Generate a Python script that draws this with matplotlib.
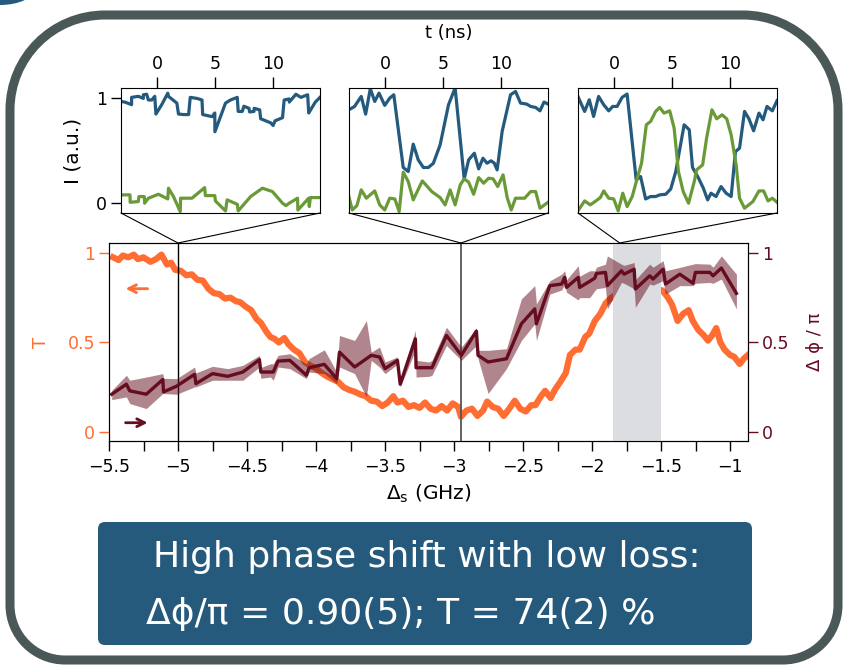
import matplotlib.pyplot as plt
from matplotlib.patches import ConnectionPatch, Ellipse, FancyBboxPatch, PathPatch
from matplotlib.path import Path

# ---- main panel: transmission T (left axis) ----
t_detuning = [
    -5.47, -5.43, -5.40, -5.36, -5.32, -5.29, -5.25, -5.20, -5.16, -5.12,
    -5.08, -5.05, -5.02, -4.98, -4.94, -4.90, -4.86, -4.82, -4.78, -4.74,
    -4.70, -4.66, -4.62, -4.58, -4.55, -4.51, -4.47, -4.43, -4.40, -4.36,
    -4.33, -4.30, -4.27, -4.23, -4.20, -4.16, -4.12, -4.08, -4.04, -4.00,
    -3.96, -3.92, -3.88, -3.84, -3.80, -3.76, -3.72, -3.68, -3.64, -3.60,
    -3.56, -3.52, -3.48, -3.44, -3.41, -3.37, -3.33, -3.29, -3.25, -3.21,
    -3.17, -3.13, -3.09, -3.05, -3.01, -2.97, -2.95, -2.91, -2.87, -2.83,
    -2.79, -2.76, -2.72, -2.68, -2.64, -2.60, -2.56, -2.52, -2.48, -2.44,
    -2.41, -2.37, -2.34, -2.30, -2.27, -2.23, -2.19, -2.16, -2.12, -2.09,
    -2.05, -2.02, -1.98, -1.94, -1.90, -1.86, -1.82, -1.70, -1.55, -1.49,
    -1.45, -1.42, -1.38, -1.34, -1.30, -1.27, -1.23, -1.19, -1.16, -1.13,
    -1.10, -1.07, -1.04, -1.00, -0.97, -0.93, -0.90, -0.87,
]
transmission = [
    0.975, 0.96, 0.985, 0.975, 0.99, 0.965, 0.975, 0.95, 0.965, 0.99,
    0.935, 0.945, 0.905, 0.90, 0.875, 0.88, 0.85, 0.845, 0.80, 0.775,
    0.77, 0.745, 0.75, 0.73, 0.725, 0.70, 0.68, 0.63, 0.61, 0.56,
    0.53, 0.52, 0.50, 0.525, 0.49, 0.46, 0.44, 0.39, 0.37, 0.355,
    0.33, 0.31, 0.295, 0.28, 0.25, 0.235, 0.225, 0.21, 0.20, 0.175,
    0.17, 0.145, 0.165, 0.20, 0.165, 0.175, 0.14, 0.15, 0.135, 0.165,
    0.13, 0.12, 0.145, 0.12, 0.16, 0.14, 0.085, 0.12, 0.13, 0.09,
    0.12, 0.17, 0.14, 0.13, 0.09, 0.13, 0.175, 0.13, 0.115, 0.15,
    0.15, 0.20, 0.23, 0.19, 0.235, 0.28, 0.33, 0.43, 0.46, 0.46,
    0.53, 0.55, 0.62, 0.66, 0.72, 0.75, 0.77, 0.80, 0.80, 0.79,
    0.75, 0.71, 0.62, 0.66, 0.68, 0.62, 0.57, 0.54, 0.51, 0.54,
    0.58, 0.50, 0.46, 0.43, 0.42, 0.38, 0.41, 0.43,
]

# ---- main panel: phase shift (right axis) with uncertainty band ----
phase_detuning = [
    -5.48, -5.374, -5.35, -5.23, -5.11, -5.105, -5.01, -4.88, -4.87, -4.75,
    -4.64, -4.53, -4.41, -4.40, -4.33, -4.31, -4.275, -4.19, -4.07, -4.05,
    -3.94, -3.85, -3.83, -3.72, -3.635, -3.60, -3.54, -3.50, -3.41, -3.39,
    -3.28, -3.275, -3.18, -3.16, -3.055, -2.947, -2.838, -2.826, -2.753, -2.62,
    -2.512, -2.415, -2.403, -2.306, -2.22, -2.198, -2.185, -2.10, -2.09, -2.017,
    -1.98, -1.968, -1.903, -1.889, -1.787, -1.768, -1.695, -1.686, -1.582, -1.558,
    -1.485, -1.468, -1.364, -1.268, -1.251, -1.147, -1.123, -1.063, -0.954,
]
phase = [
    0.211, 0.267, 0.230, 0.211, 0.293, 0.224, 0.256, 0.322, 0.270, 0.326,
    0.311, 0.335, 0.404, 0.335, 0.335, 0.335, 0.396, 0.400, 0.317, 0.359,
    0.378, 0.298, 0.446, 0.363, 0.409, 0.428, 0.419, 0.354, 0.400, 0.267,
    0.520, 0.359, 0.359, 0.359, 0.539, 0.428, 0.563, 0.428, 0.391, 0.409,
    0.604, 0.687, 0.604, 0.817, 0.826, 0.863, 0.807, 0.863, 0.807, 0.841,
    0.859, 0.885, 0.891, 0.817, 0.900, 0.881, 0.909, 0.798, 0.872, 0.854,
    0.909, 0.826, 0.881, 0.830, 0.891, 0.891, 0.872, 0.915, 0.774,
]
phase_low = [
    0.181, 0.196, 0.159, 0.131, 0.215, 0.215, 0.211, 0.252, 0.252, 0.289,
    0.289, 0.289, 0.363, 0.300, 0.307, 0.289, 0.363, 0.354, 0.298, 0.335,
    0.326, 0.270, 0.363, 0.326, 0.196, 0.400, 0.363, 0.326, 0.378, 0.252,
    0.456, 0.307, 0.311, 0.317, 0.483, 0.400, 0.483, 0.409, 0.215, 0.354,
    0.511, 0.604, 0.511, 0.770, 0.793, 0.826, 0.780, 0.737, 0.750, 0.750,
    0.789, 0.800, 0.807, 0.687, 0.835, 0.830, 0.800, 0.696, 0.826, 0.820,
    0.845, 0.770, 0.817, 0.817, 0.830, 0.835, 0.830, 0.854, 0.687,
]
phase_high = [
    0.233, 0.317, 0.289, 0.307, 0.326, 0.300, 0.298, 0.363, 0.330, 0.367,
    0.354, 0.372, 0.428, 0.360, 0.381, 0.381, 0.428, 0.437, 0.381, 0.410,
    0.459, 0.335, 0.539, 0.511, 0.622, 0.446, 0.474, 0.391, 0.419, 0.289,
    0.567, 0.400, 0.391, 0.400, 0.585, 0.474, 0.581, 0.456, 0.456, 0.465,
    0.743, 0.817, 0.715, 0.844, 0.881, 0.900, 0.850, 0.928, 0.870, 0.900,
    0.900, 0.920, 0.937, 0.983, 0.937, 0.930, 0.946, 0.850, 0.937, 0.920,
    0.956, 0.900, 0.919, 0.937, 0.940, 0.937, 0.920, 0.983, 0.881,
]

detuning_ticks = [-5.5, -5.0, -4.5, -4.0, -3.5, -3.0, -2.5, -2.0, -1.5, -1.0]
detuning_labels = ["−5.5", "−5", "−4.5", "−4", "−3.5", "−3", "−2.5", "−2", "−1.5", "−1"]
level_ticks = [0, 0.5, 1]
level_labels = ["0", "0.5", "1"]

inset_marks = [-5.0, -2.95, -1.8]      # detunings the time traces belong to
shaded_band = (-1.85, -1.5)

# ---- time traces I(t) for the three insets ----
trace1_t_blue = [
    -3.1, -2.77, -2.19, -2.19, -1.61, -1.18, -1.18, -0.89, -0.75, -0.46,
    -0.2, -0.1, 0.40, 0.92, 0.98, 1.70, 1.84, 2.28, 2.71, 2.85,
    3.43, 3.86, 3.92, 4.73, 4.96, 4.97, 5.88, 6.31, 6.89, 6.97,
    7.32, 7.46, 7.90, 7.95, 8.33, 8.34, 8.82, 8.90, 9.77, 9.97,
    10.14, 10.78, 10.92, 11.35, 11.36, 11.93, 12.36, 12.94, 13.03, 13.60, 14.0,
]
trace1_blue = [
    0.97, 0.965, 0.94, 1.01, 1.02, 1.0, 1.035, 1.04, 0.985, 0.985,
    1.02, 0.85, 0.94, 1.05, 1.02, 0.955, 0.85, 0.845, 0.845, 1.01,
    1.0, 0.985, 0.845, 0.825, 0.86, 0.68, 0.955, 0.985, 1.01, 0.875,
    0.875, 0.925, 0.905, 0.87, 0.875, 0.905, 0.89, 0.805, 0.765, 0.74,
    0.785, 0.815, 0.985, 0.995, 0.965, 1.04, 1.01, 1.035, 0.86, 0.965, 1.01,
]
trace1_t_green = [
    -3.11, -2.33, -2.31, -1.61, -1.56, -1.10, -1.07, -0.75, 0.12, 0.92,
    0.98, 1.41, 1.99, 2.02, 3.00, 4.09, 4.15, 4.96, 5.01, 5.88,
    6.02, 6.89, 6.97, 8.04, 9.05, 9.91, 10.78, 11.07, 11.35, 12.07,
    12.10, 13.03, 13.08, 13.17, 14.0,
]
trace1_green = [
    0.074, 0.074, 0.003, 0.010, 0.058, 0.058, -0.006, 0.042, 0.080, 0.035,
    0.138, 0.058, -0.087, 0.042, 0.042, 0.144, 0.067, 0.067, 0.016, -0.080,
    0.026, -0.016, -0.080, 0.058, 0.138, 0.106, -0.006, -0.029, -0.006, 0.042,
    -0.071, 0.042, -0.038, 0.048, 0.048,
]

trace2_t_blue = [
    -3.11, -2.62, -2.05, -1.67, -1.27, -0.89, -0.52, -0.03, 0.40, 0.75,
    1.56, 1.99, 2.42, 2.85, 3.29, 3.72, 4.15, 4.73, 5.45, 6.02,
    6.80, 7.18, 7.67, 8.04, 8.41, 8.76, 9.11, 9.39, 9.63, 10.06,
    10.78, 11.21, 11.64, 12.16, 12.51, 12.94, 13.31, 13.66, 14.0,
]
trace2_blue = [
    0.891, 0.923, 1.019, 0.849, 1.093, 0.971, 1.051, 0.933, 1.003, 1.035,
    0.337, 0.298, 0.561, 0.410, 0.337, 0.337, 0.378, 0.554, 0.939, 1.10,
    0.228, 0.410, 0.474, 0.324, 0.426, 0.378, 0.401, 0.378, 0.314, 0.683,
    1.035, 1.067, 0.955, 0.946, 0.923, 0.913, 0.881, 0.965, 0.946,
]
trace2_t_green = [
    -3.11, -2.82, -2.42, -2.05, -1.61, -0.89, -0.46, -0.03, 0.40, 0.84,
    1.21, 1.56, 1.99, 2.42, 3.20, 4.01, 4.73, 5.16, 5.59, 6.02,
    6.46, 6.80, 7.18, 7.61, 8.04, 8.47, 8.90, 9.28, 9.68, 10.14,
    10.49, 10.84, 11.21, 11.99, 12.51, 12.94, 13.31, 14.0,
]
trace2_green = [
    0.058, -0.071, -0.029, 0.122, 0.042, 0.112, -0.022, -0.071, 0.042, 0.035,
    -0.087, 0.292, 0.202, 0.026, 0.208, 0.106, 0.048, -0.022, 0.122, -0.022,
    0.170, 0.228, 0.196, 0.080, 0.240, 0.186, 0.234, 0.228, 0.154, 0.266,
    0.048, -0.071, 0.042, 0.042, 0.106, 0.106, -0.054, 0.003,
]

trace3_t_blue = [
    -3.11, -2.53, -2.13, -1.76, -1.33, -0.89, -0.46, -0.12, 0.26, 0.69,
    1.12, 1.90, 2.28, 2.71, 3.14, 3.57, 3.92, 4.44, 4.87, 5.30,
    6.02, 6.46, 6.74, 7.26, 7.67, 8.04, 8.33, 8.76, 9.19, 9.63,
    10.06, 10.43, 10.78, 11.21, 11.59, 11.99, 12.45, 12.80, 13.14, 13.60, 14.0,
]
trace3_blue = [
    1.019, 0.875, 0.987, 0.827, 1.019, 0.939, 0.881, 0.923, 0.923, 1.010,
    1.042, 0.218, 0.250, 0.035, 0.058, 0.058, 0.074, 0.080, 0.131, 0.298,
    0.747, 0.699, 0.337, 0.234, 0.138, 0.026, 0.090, 0.058, 0.154, 0.090,
    0.058, 0.490, 0.522, 0.875, 0.804, 0.689, 0.859, 0.795, 0.923, 0.881, 0.978,
]
trace3_t_green = [
    -3.11, -2.53, -2.05, -1.56, -1.18, -0.89, -0.46, -0.03, 0.35, 0.75,
    1.12, 1.56, 1.99, 2.36, 2.77, 3.14, 3.57, 3.92, 4.29, 4.78,
    5.16, 5.53, 5.94, 6.40, 6.89, 7.09, 7.61, 7.95, 8.41, 8.82,
    9.28, 9.68, 10.06, 10.49, 10.78, 11.21, 11.93, 12.45, 12.85, 13.23, 13.60, 14.0,
]
trace3_green = [
    -0.080, 0.016, -0.022, 0.016, 0.048, 0.112, 0.042, 0.035, -0.080, 0.090,
    -0.038, 0.058, 0.234, 0.378, 0.747, 0.779, 0.875, 0.913, 0.859, 0.881,
    0.715, 0.298, 0.106, -0.006, 0.202, 0.314, 0.362, 0.619, 0.891, 0.804,
    0.843, 0.804, 0.651, 0.362, 0.042, -0.054, 0.010, 0.112, 0.112, 0.016, 0.042, 0.003,
]

time_ticks = [0, 5, 10]

ORANGE = "#ff6d33"
WINE = "#650c1f"
BLUE = "#245a7e"
GREEN = "#6a9a38"
FRAME = "#4a5858"
BOX = "#255a7c"
SHADE = "#dcdde0"

TICK_SIZE = 12.5
LABEL_SIZE = 13

fig = plt.figure(figsize=(8.55, 6.65), dpi=100)

# background layer in pixel units for the slide frame and caption box
bg = fig.add_axes([0, 0, 1, 1], zorder=-1)
bg.set_xlim(0, 855)
bg.set_ylim(665, 0)
bg.axis("off")


def frame_path(x0, y0, x1, y1, r_top, r_bot):
    """Rounded rectangle with different corner radii on top and bottom."""
    k = 0.5523
    verts = [
        (x0 + r_top, y0), (x1 - r_top, y0),
        (x1 - r_top + k * r_top, y0), (x1, y0 + r_top - k * r_top), (x1, y0 + r_top),
        (x1, y1 - r_bot),
        (x1, y1 - r_bot + k * r_bot), (x1 - r_bot + k * r_bot, y1), (x1 - r_bot, y1),
        (x0 + r_bot, y1),
        (x0 + r_bot - k * r_bot, y1), (x0, y1 - r_bot + k * r_bot), (x0, y1 - r_bot),
        (x0, y0 + r_top),
        (x0, y0 + r_top - k * r_top), (x0 + r_top - k * r_top, y0), (x0 + r_top, y0),
        (x0 + r_top, y0),
    ]
    codes = [Path.MOVETO, Path.LINETO,
             Path.CURVE4, Path.CURVE4, Path.CURVE4,
             Path.LINETO,
             Path.CURVE4, Path.CURVE4, Path.CURVE4,
             Path.LINETO,
             Path.CURVE4, Path.CURVE4, Path.CURVE4,
             Path.LINETO,
             Path.CURVE4, Path.CURVE4, Path.CURVE4,
             Path.CLOSEPOLY]
    return Path(verts, codes)


bg.add_patch(PathPatch(frame_path(10, 15, 838, 660, 95, 55), fc="none", ec=FRAME, lw=6.5))
bg.add_patch(Ellipse((0, -12), 70, 34, fc=BOX, ec="none"))
bg.add_patch(FancyBboxPatch((98, 522), 654, 123, boxstyle="round,pad=0,rounding_size=7",
                            fc=BOX, ec="none"))
box_font = ["DejaVu Sans"]
bg.text(427, 567, "High phase shift with low loss:", ha="center", va="baseline",
        color="white", fontsize=26, family=box_font)
bg.text(146, 624, "Δϕ/π = 0.90(5); T = 74(2) %", ha="left", va="baseline",
        color="white", fontsize=26, family=box_font)

# main axes
ax = fig.add_axes([109 / 855, 1 - 441 / 665, 639 / 855, 198 / 665])
ylim = (-0.05, 1.055)
ax.plot(t_detuning, transmission, color=ORANGE, lw=4.5, zorder=2)
ax.axvspan(*shaded_band, color=SHADE, lw=0, zorder=3)
ax.axvline(inset_marks[0], color="black", lw=1, zorder=4)
ax.axvline(inset_marks[1], color="#555555", lw=1.3, zorder=4)
ax.set_xlim(-5.5, -0.87)
ax.set_ylim(*ylim)
ax.set_xticks(detuning_ticks)
ax.set_xticklabels(detuning_labels)
ax.set_xticks([v + 0.25 for v in detuning_ticks[:-1]], minor=True)
ax.tick_params(axis="x", which="both", length=7, width=1, labelsize=TICK_SIZE, pad=5)
ax.set_yticks(level_ticks)
ax.set_yticklabels(level_labels)
ax.tick_params(axis="y", colors=ORANGE, length=7, width=1, labelsize=TICK_SIZE, pad=3)
ax.set_ylabel("T", color=ORANGE, fontsize=LABEL_SIZE, labelpad=13)
ax.set_xlabel(r"$\Delta_\mathrm{s}$ (GHz)", fontsize=14.5, labelpad=5)
ax.annotate("", xy=(-5.40, 0.80), xytext=(-5.20, 0.80),
            arrowprops=dict(arrowstyle="->", color=ORANGE, lw=2,
                            mutation_scale=14))

ax2 = ax.twinx()
ax2.fill_between(phase_detuning, phase_low, phase_high, color=WINE, alpha=0.5, lw=0)
ax2.plot(phase_detuning, phase, color=WINE, lw=2.4)
ax2.set_ylim(*ylim)
ax2.set_yticks(level_ticks)
ax2.set_yticklabels(level_labels)
ax2.tick_params(axis="y", colors=WINE, length=7, width=1, labelsize=TICK_SIZE, pad=3)
ax2.set_ylabel("Δ ϕ / π", color=WINE, fontsize=LABEL_SIZE, labelpad=12)
ax2.annotate("", xy=(-5.20, 0.052), xytext=(-5.40, 0.052),
             arrowprops=dict(arrowstyle="->", color=WINE, lw=2,
                             mutation_scale=14))

# insets with time traces
inset_lefts = [121 / 855, 349 / 855, 578 / 855]
traces = [
    (trace1_t_blue, trace1_blue, trace1_t_green, trace1_green),
    (trace2_t_blue, trace2_blue, trace2_t_green, trace2_green),
    (trace3_t_blue, trace3_blue, trace3_t_green, trace3_green),
]
for i, (left, (tb, yb, tg, yg), mark) in enumerate(zip(inset_lefts, traces, inset_marks)):
    axin = fig.add_axes([left, 1 - 213 / 665, 199 / 855, 125 / 665])
    axin.plot(tb, yb, color=BLUE, lw=2.3)
    axin.plot(tg, yg, color=GREEN, lw=2.3)
    axin.set_xlim(-3.1, 14.0)
    axin.set_ylim(-0.1, 1.1)
    axin.xaxis.tick_top()
    axin.set_xticks(time_ticks)
    axin.tick_params(axis="x", length=8, width=1, labelsize=TICK_SIZE, pad=3)
    if i == 0:
        axin.set_yticks([0, 1])
        axin.set_yticklabels(["0", "1"])
        axin.tick_params(axis="y", length=7, width=1, labelsize=TICK_SIZE, pad=3)
        axin.set_ylabel("I (a.u.)", fontsize=14.5, labelpad=10)
    else:
        axin.set_yticks([])
    for corner in [(0, 0), (1, 0)]:
        con = ConnectionPatch(xyA=corner, coordsA=axin.transAxes,
                              xyB=(mark, ylim[1]), coordsB=ax.transData,
                              color="black", lw=0.8)
        fig.add_artist(con)

fig.text(449 / 855, 1 - 33 / 665, "t (ns)", ha="center", va="center", fontsize=LABEL_SIZE)

fig.savefig("out.png", dpi=100)
